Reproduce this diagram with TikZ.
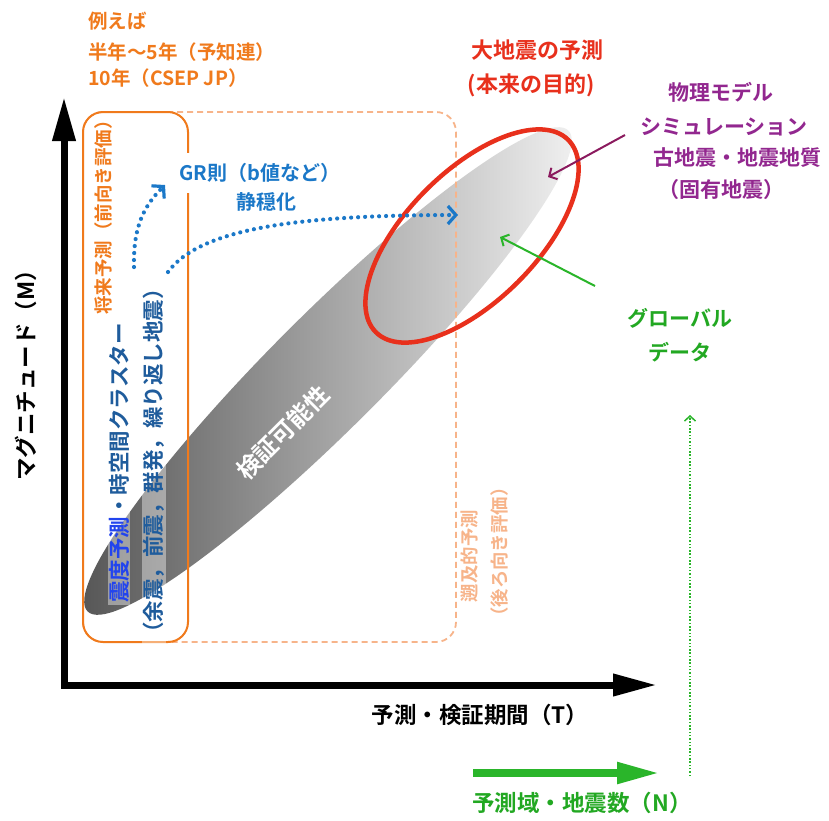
\documentclass[tikz,border=0pt]{standalone}
\usepackage{fontspec}
\setmainfont{Noto Sans CJK JP}[BoldFont={Noto Sans CJK JP Bold}]
\usetikzlibrary{arrows.meta,shapes.geometric}
\definecolor{orangeC}{HTML}{F07A1C}
\definecolor{peachC}{HTML}{F7B48A}
\definecolor{blueGR}{HTML}{1B78C8}
\definecolor{blueDark}{HTML}{1F5C9C}
\definecolor{blueBright}{HTML}{2244EE}
\definecolor{redC}{HTML}{E8301C}
\definecolor{purpleT}{HTML}{92278F}
\definecolor{purpleA}{HTML}{8B1A5E}
\definecolor{greenT}{HTML}{22A822}
\definecolor{greenA}{HTML}{2AB52A}
\tikzset{
  fsz/.style={font=\fontsize{#1}{#1}\selectfont\bfseries},
  lbl/.style={inner sep=0pt},
  colbox/.style={fill=white, fill opacity=0.4, text opacity=1, inner xsep=2pt, inner ysep=1pt},
  dotarrow/.style={blueGR, line width=4.2pt, line cap=round, dash pattern=on 0pt off 7pt,
     -{Straight Barb[length=8pt,width=18pt,line width=3.2pt]}},
  thinarrow/.style={line width=2pt, -{Straight Barb[length=6pt,width=13pt,line width=2pt]}},
}
\begin{document}
\begin{tikzpicture}[x=1pt,y=-1pt]
\useasboundingbox (0,0) rectangle (829,820);
\fill[white] (0,0) rectangle (829,820);

% gradient ellipse
\node[ellipse, draw=none, minimum width=680pt, minimum height=114pt, inner sep=0pt,
      rotate=45, left color=black!68, right color=black!4] (verif) at (328,371) {};

% boxes
\draw[peachC, line width=1.8pt, dash pattern=on 6pt off 4pt, rounded corners=20pt]
  (83,112) rectangle (456,642);
\draw[orangeC, line width=2pt, rounded corners=20pt] (83,112) rectangle (188,642);

% red ellipse
\node[ellipse, draw=redC, line width=4.5pt, minimum width=272pt, minimum height=130pt,
      inner sep=0pt, rotate=45] (bigq) at (472,236) {};

% axes
\coordinate (origin) at (64,685);
\coordinate (xend) at (657,685);
\coordinate (yend) at (64,97);
\draw[line width=7pt, line join=miter,
      {Triangle[length=44pt,width=22pt]}-{Triangle[length=44pt,width=21pt]}]
  (yend) -- (origin) -- (xend);

% green axis
\coordinate (gstart) at (473,773);
\coordinate (gend) at (660,773);
\draw[greenA, line width=8pt, -{Triangle[length=43pt,width=20pt]}] (gstart) -- (gend);
\coordinate (gdb) at (690,776);
\coordinate (gdt) at (690,415);
\draw[greenA, line width=1.5pt, dash pattern=on 1.5pt off 1.8pt,
      -{Straight Barb[length=5pt,width=11pt,line width=1.5pt]}] (gdb) -- (gdt);

% texts top-left
\node[lbl, fsz=19.5, text=orangeC, anchor=west] (ex1) at (88,21) {例えば};
\node[lbl, fsz=19.5, text=orangeC, anchor=west] (ex2) at (88,52) {半年〜5年（予知連）};
\node[lbl, fsz=19.5, text=orangeC, anchor=west] (ex3) at (88,78) {10年（CSEP JP）};

% red
\node[lbl, fsz=22, text=redC] (red1) at (537,50) {大地震の予測};
\node[lbl, fsz=22, text=redC] (red2) at (531,85) {(本来の目的)};

% purple
\node[lbl, fsz=21, text=purpleT] (p1) at (721,92) {物理モデル};
\node[lbl, fsz=21, text=purpleT] (p2) at (724,127) {シミュレーション};
\node[lbl, fsz=21, text=purpleT] (p3) at (737,158) {古地震・地震地質};
\node[lbl, fsz=21, text=purpleT] (p4) at (721,190) {（固有地震）};

% green text
\node[lbl, fsz=21, text=greenT] (g1) at (680,318) {グローバル};
\node[lbl, fsz=21, text=greenT] (g2) at (680,352) {データ};
\node[lbl, fsz=22.5, text=greenT] (nlab) at (582,803) {予測域・地震数（N）};

% axis labels
\node[lbl, fsz=22.5] (tlab) at (480,715) {予測・検証期間（T）};
\node[lbl, fsz=22.5, rotate=90] (mlab) at (26,370) {マグニチュード（M）};

% vertical texts
\node[lbl, fsz=18.5, text=orangeC, rotate=90] (fut) at (103,213) {将来予測（前向き評価）};
\node[colbox, fsz=21.5, text=blueDark, rotate=90] (col1) at (119,463)
  {\textcolor{blueBright}{震度予測}・時空間クラスター};
\node[colbox, fsz=21.5, text=blueDark, rotate=90] (col2) at (154,461)
  {（余震，前震，群発，繰り返し地震）};
\node[lbl, fsz=18.4, text=peachC, rotate=90] (retro1) at (470,556) {遡及的予測};
\node[lbl, fsz=18.4, text=peachC, rotate=90] (retro2) at (500,552) {（後ろ向き評価）};

% verification label
\node[lbl, fsz=24, text=white, rotate=45] (vlab) at (283,433) {検証可能性};

% GR text
\node[fsz=20, text=blueGR, fill=white, inner xsep=2pt, inner ysep=10pt] (gr) at (260,173) {GR則（b値など）};
\node[lbl, fsz=20, text=blueGR] (quiet) at (266,202) {静穏化};

% dotted arrows
\coordinate (s1) at (134,267);
\coordinate (s1e) at (165,185);
\draw[dotarrow] (s1) .. controls (133,225) and (145,205) .. (s1e);
\coordinate (s2) at (168,272);
\coordinate (s2e) at (458,215);
\draw[dotarrow] (s2) .. controls (200,228) and (300,215) .. (s2e);

% thin arrows
\coordinate (pa) at (625,135);
\coordinate (pb) at (548,177);
\draw[thinarrow, purpleA] (pa) -- (pb);
\coordinate (ga) at (595,286);
\coordinate (gb) at (500,237);
\draw[thinarrow, greenA] (ga) -- (gb);
\end{tikzpicture}
\end{document}
